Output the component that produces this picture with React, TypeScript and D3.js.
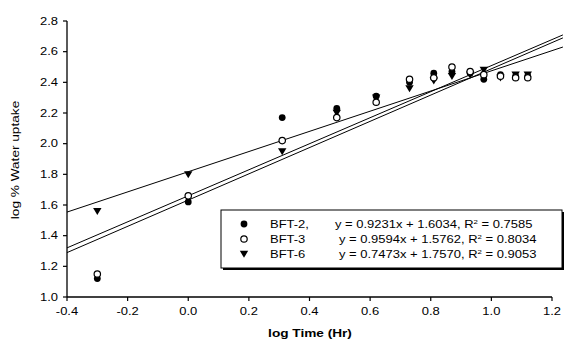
import React from "react";
import * as d3 from "d3";

const timeLog = [-0.3, 0.0, 0.31, 0.49, 0.62, 0.73, 0.81, 0.87, 0.93, 0.975, 1.03, 1.08, 1.12];
const bft2 = [1.12, 1.62, 2.17, 2.23, 2.31, 2.40, 2.46, 2.47, 2.46, 2.42, 2.45, 2.44, 2.44];
const bft3 = [1.15, 1.66, 2.02, 2.17, 2.27, 2.42, 2.43, 2.50, 2.47, 2.45, 2.44, 2.43, 2.43];
const bft6 = [1.56, 1.80, 1.95, 2.20, 2.30, 2.36, 2.41, 2.44, 2.45, 2.48, 2.43, 2.45, 2.45];

const seriesNames = ["BFT-2,", "BFT-3", "BFT-6"];
const equations = [
  ["y = 0.9231x + 1.6034,  R", " = 0.7585"],
  ["y = 0.9594x + 1.5762,  R", " = 0.8034"],
  ["y = 0.7473x + 1.7570,  R", " = 0.9053"],
];
// trend lines as drawn in the picture (slope, intercept)
const fitSlopes = [0.856, 0.849, 0.658];
const fitIntercepts = [1.632, 1.66, 1.817];
const fitRange = [-0.4, 1.236];

const xTicks = [-0.4, -0.2, 0.0, 0.2, 0.4, 0.6, 0.8, 1.0, 1.2];
const yTicks = [1.0, 1.2, 1.4, 1.6, 1.8, 2.0, 2.2, 2.4, 2.6, 2.8];

const FONT = "'Liberation Sans', Arial, sans-serif";
const SX = 1.3;

function Marker({ kind, x, y }: { kind: number; x: number; y: number }) {
  if (kind === 0) return <circle cx={x} cy={y} r={3.4} fill="#000" />;
  if (kind === 1)
    return <circle cx={x} cy={y} r={3.2} fill="#fff" stroke="#000" strokeWidth={1.2} />;
  const p = d3.path();
  p.moveTo(x - 4.2, y - 3.2);
  p.lineTo(x + 4.2, y - 3.2);
  p.lineTo(x, y + 3.8);
  p.closePath();
  return <path d={p.toString()} fill="#000" />;
}

function T({ x, y, anchor = "start", children, size = 10, weight = "normal", rotate = 0 }: any) {
  return (
    <text
      transform={`translate(${x},${y}) rotate(${rotate}) scale(${SX},1)`}
      textAnchor={anchor}
      fontFamily={FONT}
      fontSize={size}
      fontWeight={weight}
      fill="#000"
    >
      {children}
    </text>
  );
}

export default function App() {
  const W = 573, H = 341;
  const x = d3.scaleLinear().domain([-0.4, 1.2]).range([67, 552]);
  const y = d3.scaleLinear().domain([1.0, 2.8]).range([297, 21]);
  const series = [bft2, bft3, bft6];
  const line = d3
    .line<number>()
    .x((d) => x(d))
    .y((d) => d);

  return (
    <svg width={W} height={H} style={{ position: "absolute", left: 0, top: 0, background: "#fff" }}>
      <rect width={W} height={H} fill="#fff" />
      {/* axes */}
      <line x1={67} x2={67} y1={y(2.8)} y2={y(1.0)} stroke="#000" strokeWidth={1.3} />
      <line x1={67} x2={x(1.2)} y1={y(1.0)} y2={y(1.0)} stroke="#000" strokeWidth={1.3} />
      {yTicks.map((t) => (
        <g key={"y" + t}>
          <line x1={63} x2={67} y1={y(t)} y2={y(t)} stroke="#000" strokeWidth={1.2} />
          <T x={58} y={y(t) + 3.5} anchor="end">{t.toFixed(1)}</T>
        </g>
      ))}
      {xTicks.map((t) => (
        <g key={"x" + t}>
          <line x1={x(t)} x2={x(t)} y1={y(1.0)} y2={y(1.0) + 4} stroke="#000" strokeWidth={1.2} />
          <T x={x(t)} y={315} anchor="middle">{t.toFixed(1)}</T>
        </g>
      ))}
      <T x={310} y={337} anchor="middle" size={10.5} weight="bold">log Time (Hr)</T>
      <T x={19} y={160} anchor="middle" size={10.5} rotate={-90}>log % Water uptake</T>

      {/* trend lines */}
      {fitSlopes.map((s, i) => {
        const pts = fitRange.map((v) => [x(v), y(s * v + fitIntercepts[i])] as [number, number]);
        const l = d3.line();
        return <path key={"f" + i} d={l(pts) || ""} fill="none" stroke="#000" strokeWidth={1} />;
      })}

      {/* points */}
      {[2, 0, 1].map((si) =>
        series[si].map((v, j) => <Marker key={si + "-" + j} kind={si} x={x(timeLog[j])} y={y(v)} />)
      )}

      {/* legend */}
      <rect x={223} y={212} width={341} height={58} fill="#000" />
      <rect x={221} y={210} width={341} height={58} fill="#fff" stroke="#000" strokeWidth={1} />
      {seriesNames.map((n, i) => {
        const ry = 224 + i * 15;
        return (
          <g key={"l" + i}>
            <Marker kind={i} x={244} y={ry} />
            <T x={270} y={ry + 3.5}>{n}</T>
            <text
              transform={`translate(${i === 0 ? 335 : 339},${ry + 3.5}) scale(${SX},1)`}
              fontFamily={FONT}
              fontSize={10}
              fill="#000"
            >
              {equations[i][0]}
              <tspan dy={-4} fontSize={6}>2</tspan>
              <tspan dy={4}>{equations[i][1]}</tspan>
            </text>
          </g>
        );
      })}
    </svg>
  );
}
